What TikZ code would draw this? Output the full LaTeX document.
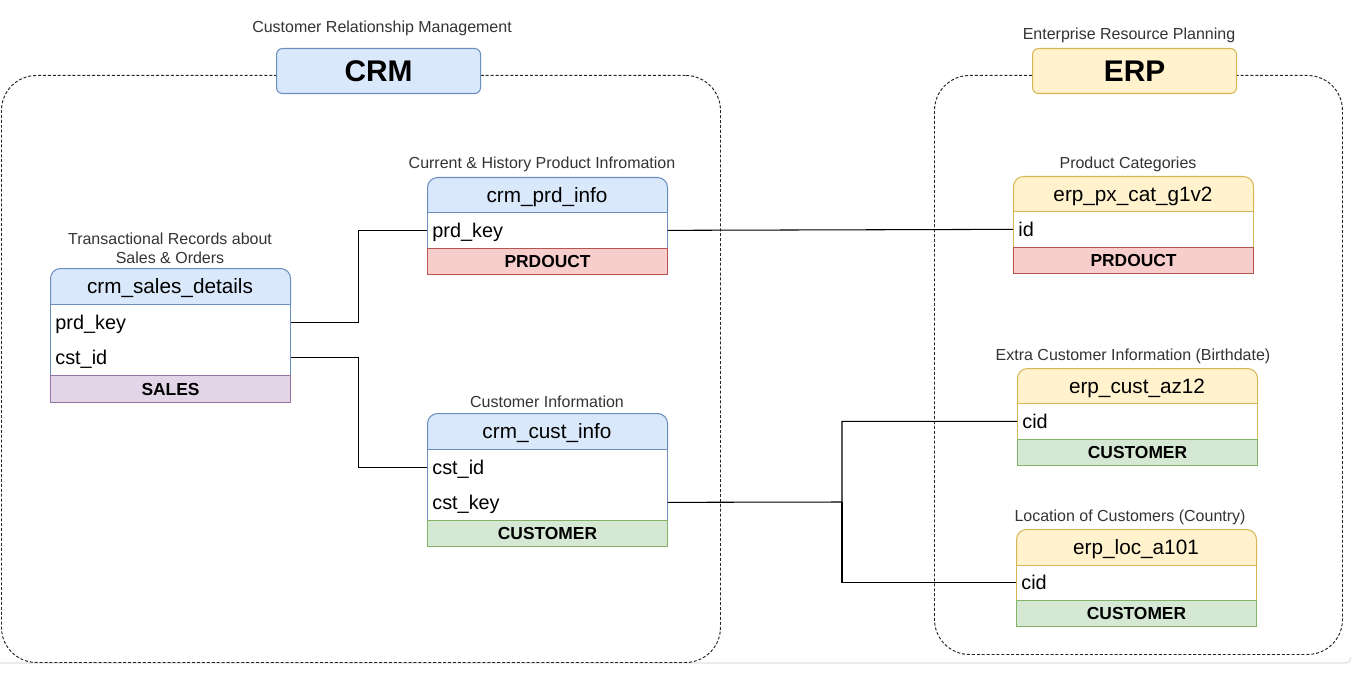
\documentclass[tikz,border=0pt]{standalone}
\usepackage{fontspec}
\setmainfont{Liberation Sans}
\usetikzlibrary{calc}
\definecolor{bfill}{HTML}{DAE8FC}\definecolor{bline}{HTML}{6C8EBF}
\definecolor{yfill}{HTML}{FFF2CC}\definecolor{yline}{HTML}{D6B656}
\definecolor{rfill}{HTML}{F8CECC}\definecolor{rline}{HTML}{B85450}
\definecolor{gfill}{HTML}{D5E8D4}\definecolor{gline}{HTML}{82B366}
\definecolor{pfill}{HTML}{E1D5E7}\definecolor{pline}{HTML}{9673A6}
\definecolor{lbltext}{HTML}{333333}
\def\P#1{#1*0.02cm}
\tikzset{
 lbl/.style={font=\fontsize{9.1}{10.8}\selectfont, text=lbltext, align=center, inner sep=0pt, yshift=-0.05cm},
 hbox/.style 2 args={draw=#1, fill=#2, line width=0.6pt, rounded corners=\P{10}, minimum width=\P{240}, anchor=north west, inner sep=0pt},
 htext/.style={font=\fontsize{11.8}{14}\selectfont, inner sep=0pt, yshift=-0.04cm},
 tbody/.style={draw=#1, fill=white, line width=0.6pt, minimum width=\P{240}, anchor=north west, inner sep=0pt},
 trow/.style={minimum width=\P{240}, text width=\P{230}, align=left, inner xsep=\P{5}, inner ysep=0pt, minimum height=\P{36}, text height=9.5pt, text depth=1.5pt, anchor=north west, font=\fontsize{11.3}{13}\selectfont},
 tfoot/.style 2 args={draw=#1, fill=#2, line width=0.6pt, minimum width=\P{240}, anchor=north west, inner sep=0pt, font=\bfseries\fontsize{9.9}{11}\selectfont},
 titlebox/.style 2 args={draw=#1, fill=#2, line width=0.6pt, rounded corners=\P{6}, minimum width=\P{204}, minimum height=\P{45}, anchor=north west, inner sep=0pt, font=\bfseries\fontsize{17}{20}\selectfont},
 area/.style={draw=black!85, line width=0.55pt, dash pattern=on 1.7pt off 1.1pt, rounded corners=\P{35}, anchor=north west, inner sep=0pt},
 link/.style={draw=black, line width=0.6pt},
}
\begin{document}
\begin{tikzpicture}[x=0.02cm, y=-0.02cm]
\useasboundingbox (0,0) rectangle (1351,682);
% faint frame line
\draw[black!12, line width=0.8pt] (0,663) -- (1345,663) to[out=0,in=-90] (1351,657);
% containers
\node[area, minimum width=\P{719}, minimum height=\P{587}] (crmArea) at (1,75) {};
\node[area, minimum width=\P{408}, minimum height=\P{579}] (erpArea) at (934,75) {};
% titles
\node[lbl] (crmLbl) at (382,26) {Customer Relationship Management};
\node[titlebox={bline}{bfill}] (crmT) at (276,48) {CRM};
\node[lbl] (erpLbl) at (1129,33) {Enterprise Resource Planning};
\node[titlebox={yline}{yfill}] (erpT) at (1032,48) {ERP};

% crm_sales_details
\node[lbl] (sdL) at (170,246) {Transactional Records about\\Sales \& Orders};
\node[hbox={bline}{bfill}, minimum height=\P{46}] (sdH) at (50,268) {};
\node[htext] (sdT) at (170,286) {crm\_sales\_details};
\node[tbody=bline, minimum height=\P{71}] (sdB) at (50,304) {};
\node[trow] (sd1) at (50,304) {prd\_key};
\node[trow] (sd2) at (50,339) {cst\_id};
\node[tfoot={pline}{pfill}, minimum height=\P{27}] (sdF) at (50,375) {SALES};

% crm_prd_info
\node[lbl] (prL) at (542,162) {Current \& History Product Infromation};
\node[hbox={bline}{bfill}, minimum height=\P{45}] (prH) at (427,177) {};
\node[htext] (prT) at (547,195) {crm\_prd\_info};
\node[tbody=bline, minimum height=\P{36}] (prB) at (427,212) {};
\node[trow] (pr1) at (427,212) {prd\_key};
\node[tfoot={rline}{rfill}, minimum height=\P{26}] (prF) at (427,248) {PRDOUCT};

% crm_cust_info
\node[lbl] (ciL) at (547,399) {Customer Information};
\node[hbox={bline}{bfill}, minimum height=\P{46}] (ciH) at (427,413) {};
\node[htext] (ciT) at (547,431) {crm\_cust\_info};
\node[tbody=bline, minimum height=\P{71}] (ciB) at (427,449) {};
\node[trow] (ci1) at (427,449) {cst\_id};
\node[trow] (ci2) at (427,484) {cst\_key};
\node[tfoot={gline}{gfill}, minimum height=\P{26}] (ciF) at (427,520) {CUSTOMER};

% erp_px_cat_g1v2
\node[lbl] (pxL) at (1128,162) {Product Categories};
\node[hbox={yline}{yfill}, minimum height=\P{45}] (pxH) at (1013,176) {};
\node[htext] (pxT) at (1133,194) {erp\_px\_cat\_g1v2};
\node[tbody=yline, minimum height=\P{36}] (pxB) at (1013,211) {};
\node[trow] (px1) at (1013,211) {id};
\node[tfoot={rline}{rfill}, minimum height=\P{26}] (pxF) at (1013,247) {PRDOUCT};

% erp_cust_az12
\node[lbl] (azL) at (1133,354) {Extra Customer Information (Birthdate)};
\node[hbox={yline}{yfill}, minimum height=\P{45}] (azH) at (1017,368) {};
\node[htext] (azT) at (1137,386) {erp\_cust\_az12};
\node[tbody=yline, minimum height=\P{36}] (azB) at (1017,403) {};
\node[trow] (az1) at (1017,403) {cid};
\node[tfoot={gline}{gfill}, minimum height=\P{26}] (azF) at (1017,439) {CUSTOMER};

% erp_loc_a101
\node[lbl] (loL) at (1130,515) {Location of Customers (Country)};
\node[hbox={yline}{yfill}, minimum height=\P{46}] (loH) at (1016,529) {};
\node[htext] (loT) at (1136,547) {erp\_loc\_a101};
\node[tbody=yline, minimum height=\P{35}] (loB) at (1016,565) {};
\node[trow] (lo1) at (1016,564) {cid};
\node[tfoot={gline}{gfill}, minimum height=\P{26}] (loF) at (1016,600) {CUSTOMER};

% connectors
\draw[link] (sd1.east) -| ($(sd1.east)!.5!(pr1.west)$) |- (pr1.west);
\draw[link] (sd2.east) -| ($(sd2.east)!.5!(ci1.west)$) |- (ci1.west);
\draw[link] (pr1.east) -- (px1.west);
\coordinate (jn) at (842,502);
\draw[link] (ci2.east) -- (jn) |- (az1.west);
\draw[link] (jn) |- (lo1.west);
\end{tikzpicture}
\end{document}
